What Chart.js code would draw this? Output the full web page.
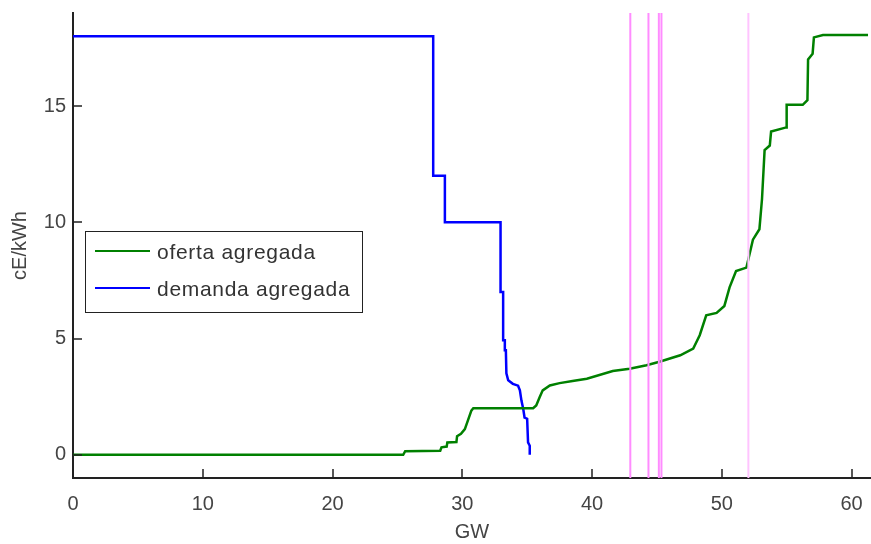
<!DOCTYPE html>
<html>
<head>
<meta charset="utf-8">
<script src="https://cdn.jsdelivr.net/npm/chart.js@4"></script>
<style>
  body { margin: 0; background: #fff; }
  canvas { display: block; }
</style>
</head>
<body>
<canvas id="chart" width="871" height="544"></canvas>
<script>
// oferta agregada (GW, cE/kWh)
const ofertaX = [0, 25.45, 25.6, 28.3, 28.4, 28.8, 28.85, 29.55, 29.6, 29.9, 30.2, 30.45, 30.7, 30.85,
  35.46, 35.7, 35.97, 36.2, 36.75, 37.5, 38.5, 39.6, 41.6, 42.9, 44.2, 45.2, 46.8, 47.8, 48.3, 48.8,
  49.6, 50.2, 50.6, 51.1, 51.9, 52.4, 52.9, 53.1, 53.3, 53.7, 53.8, 54.97, 55.0, 56.24, 56.6, 56.65,
  57.0, 57.1, 57.8, 61.27];
const ofertaY = [0, 0, 0.15, 0.17, 0.32, 0.35, 0.53, 0.55, 0.8, 0.9, 1.1, 1.5, 1.9, 2.0,
  2.0, 2.12, 2.48, 2.77, 2.98, 3.08, 3.17, 3.27, 3.6, 3.7, 3.85, 4.0, 4.28, 4.57, 5.14, 6.0,
  6.1, 6.4, 7.2, 7.9, 8.05, 9.25, 9.7, 11.0, 13.1, 13.3, 13.9, 14.08, 15.05, 15.05, 15.25, 17.0,
  17.25, 17.95, 18.05, 18.05];

// demanda agregada
const demandaX = [0, 27.76, 27.76, 28.66, 28.66, 32.95, 32.95, 33.15, 33.15, 33.28, 33.28, 33.36,
  33.4, 33.54, 33.9, 34.3, 34.44, 34.56, 34.7, 34.8, 35.0, 35.07, 35.2, 35.2];
const demandaY = [18, 18, 12, 12, 10, 10, 7.0, 7.0, 4.93, 4.93, 4.5, 4.5,
  3.5, 3.2, 3.05, 2.97, 2.77, 2.33, 1.97, 1.6, 1.55, 0.53, 0.39, 0];

// vertical marker lines (GW)
const marcas = [42.95, 44.35, 45.15, 45.35, 52.05];
const marcaColors = ['#ff8cff', '#ff8cff', '#ff8cff', '#ff8cff', '#ffc4ff'];

const xTicks = [0, 10, 20, 30, 40, 50, 60];
const yTicks = [0, 5, 10, 15];
const xMin = 0, xMax = 61.5, yMin = -1, yMax = 19;

const toPoints = (xs, ys) => xs.map((x, i) => ({ x: x, y: ys[i] }));

const datasets = marcas.map((m, i) => ({
  label: 'marca' + i,
  data: [{ x: m, y: yMin }, { x: m, y: yMax }],
  borderColor: marcaColors[i],
  borderWidth: 2,
  showLegend: false
}));
datasets.push({
  label: 'oferta agregada',
  data: toPoints(ofertaX, ofertaY),
  borderColor: '#008000',
  borderWidth: 2.5,
  showLegend: true
});
datasets.push({
  label: 'demanda agregada',
  data: toPoints(demandaX, demandaY),
  borderColor: '#0000ff',
  borderWidth: 2.5,
  showLegend: true
});

const FONT = 'Liberation Sans, Arial, sans-serif';

// matlab style inner ticks
const innerTicks = {
  id: 'innerTicks',
  afterDraw(chart) {
    const { ctx, chartArea, scales } = chart;
    ctx.save();
    ctx.strokeStyle = '#222';
    ctx.lineWidth = 1.5;
    ctx.beginPath();
    xTicks.forEach(v => {
      const px = Math.round(scales.x.getPixelForValue(v));
      ctx.moveTo(px, chartArea.bottom);
      ctx.lineTo(px, chartArea.bottom - 9);
    });
    yTicks.forEach(v => {
      const py = Math.round(scales.y.getPixelForValue(v));
      ctx.moveTo(chartArea.left, py);
      ctx.lineTo(chartArea.left + 9, py);
    });
    ctx.stroke();
    ctx.restore();
  }
};

// legend box inside the axes
const boxLegend = {
  id: 'boxLegend',
  afterDraw(chart) {
    const { ctx, chartArea } = chart;
    const items = chart.data.datasets.filter(d => d.showLegend);
    const x0 = chartArea.left + 12, y0 = chartArea.top + 218;
    const w = 277, h = 81;
    ctx.save();
    ctx.fillStyle = '#fff';
    ctx.fillRect(x0, y0, w, h);
    ctx.strokeStyle = '#222';
    ctx.lineWidth = 1;
    ctx.strokeRect(x0 + 0.5, y0 + 0.5, w, h);
    ctx.font = '21px ' + FONT;
    ctx.letterSpacing = '0.7px';
    ctx.textBaseline = 'middle';
    items.forEach((d, i) => {
      const y = y0 + 20 + i * 37;
      ctx.strokeStyle = d.borderColor;
      ctx.lineWidth = 2;
      ctx.beginPath();
      ctx.moveTo(x0 + 10, y);
      ctx.lineTo(x0 + 65, y);
      ctx.stroke();
      ctx.fillStyle = '#333';
      ctx.fillText(d.label, x0 + 72, y + 2);
    });
    ctx.restore();
  }
};

new Chart(document.getElementById('chart'), {
  type: 'scatter',
  data: { datasets: datasets },
  options: {
    responsive: false,
    animation: false,
    showLine: true,
    elements: { point: { radius: 0 }, line: { tension: 0, fill: false } },
    layout: { padding: { top: 13, right: 0, left: 0, bottom: 0 } },
    plugins: { legend: { display: false }, tooltip: { enabled: false } },
    scales: {
      x: {
        type: 'linear',
        min: xMin,
        max: xMax,
        afterBuildTicks: s => { s.ticks = xTicks.map(v => ({ value: v })); },
        afterFit: s => { s.height = 66; s.paddingLeft = 0; s.paddingRight = 0; },
        grid: { display: true, drawOnChartArea: false, drawTicks: false },
        border: { display: true, color: '#222', width: 2 },
        ticks: { padding: 14, color: '#444', font: { family: FONT, size: 20 } },
        title: { display: true, text: 'GW', color: '#444', font: { family: FONT, size: 20 }, padding: { top: 0, bottom: 0 } }
      },
      y: {
        type: 'linear',
        min: yMin,
        max: yMax,
        afterBuildTicks: s => { s.ticks = yTicks.map(v => ({ value: v })); },
        afterFit: s => { s.width = 73; s.paddingTop = 0; s.paddingBottom = 0; },
        grid: { display: true, drawOnChartArea: false, drawTicks: false },
        border: { display: true, color: '#222', width: 2 },
        ticks: { padding: 7, color: '#444', font: { family: FONT, size: 20 } },
        title: { display: true, text: 'cE/kWh', color: '#444', font: { family: FONT, size: 20 }, padding: { top: 8, bottom: 0 } }
      }
    }
  },
  plugins: [innerTicks, boxLegend]
});
</script>
</body>
</html>
